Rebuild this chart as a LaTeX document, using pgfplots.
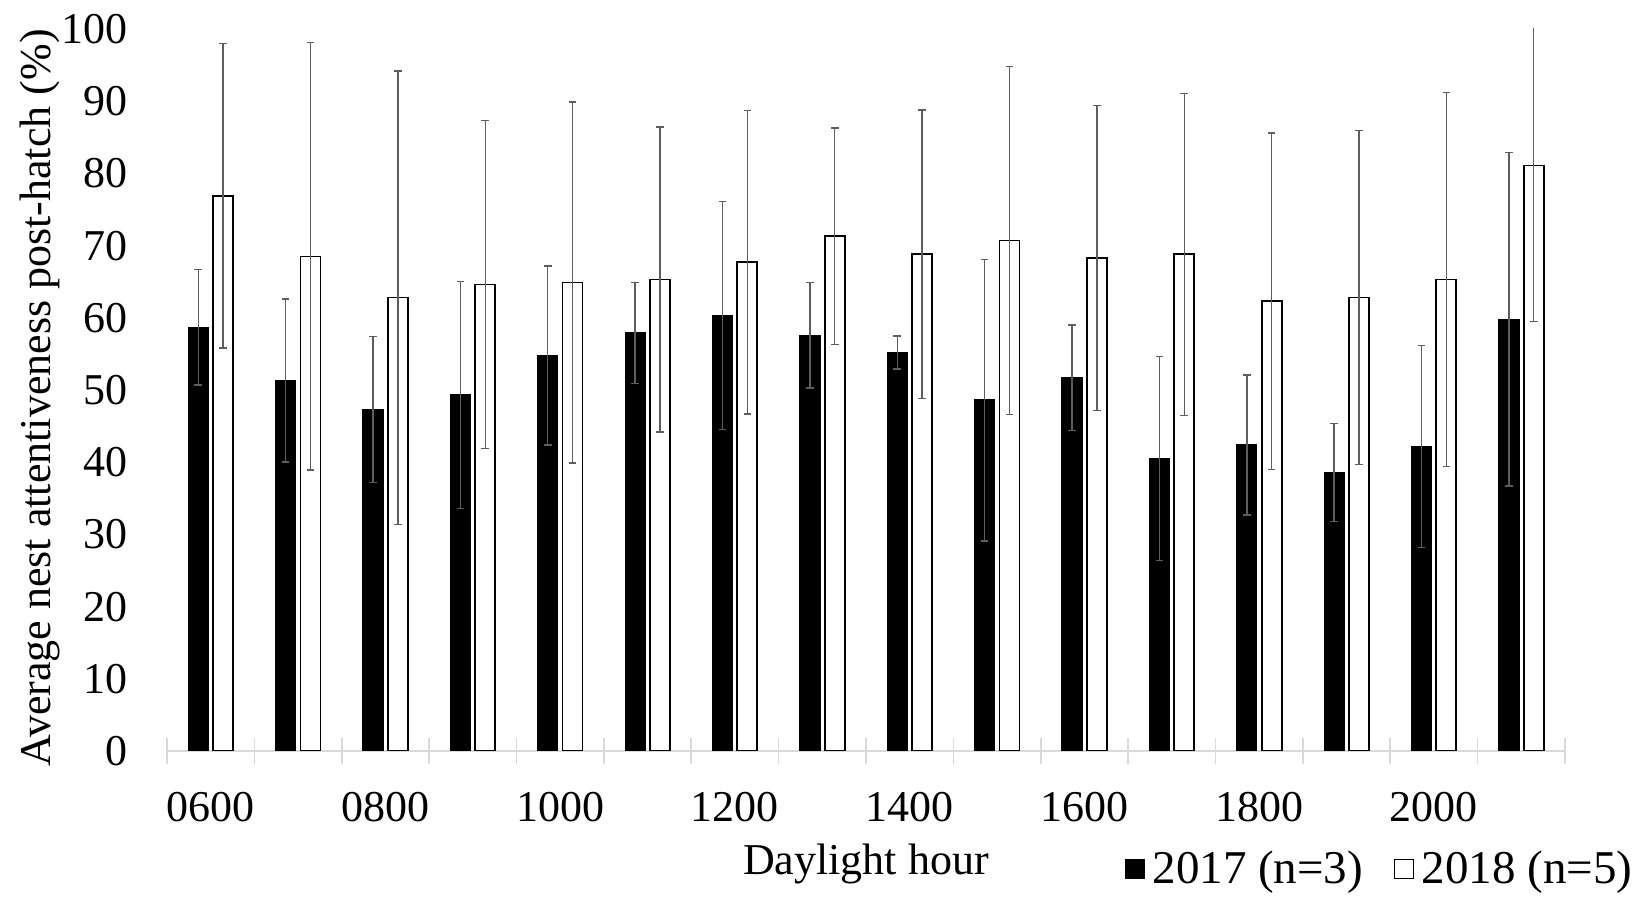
\documentclass[border=0pt]{standalone}
\usepackage{fontspec}
\setmainfont{Liberation Serif}
\usepackage{pgfplots}
\pgfplotsset{compat=1.18}
\usepackage{pgfplotstable}
\definecolor{axgray}{HTML}{D9D9D9}
\definecolor{errgray}{HTML}{5E5E5E}

\pgfplotstableread{
x y e
0 58.7 8.0
1 51.3 11.3
2 47.3 10.1
3 49.3 15.7
4 54.8 12.4
5 57.9 7.0
6 60.3 15.8
7 57.6 7.3
8 55.2 2.3
9 48.6 19.5
10 51.7 7.3
11 40.5 14.1
12 42.4 9.7
13 38.6 6.8
14 42.2 14.0
15 59.8 23.1
}\dataA

\pgfplotstableread{
x y e
0 76.9 21.1
1 68.5 29.6
2 62.8 31.4
3 64.6 22.7
4 64.9 25.0
5 65.3 21.1
6 67.7 21.0
7 71.3 15.0
8 68.8 20.0
9 70.7 24.1
10 68.3 21.1
11 68.8 22.3
12 62.3 23.3
13 62.8 23.1
14 65.3 25.9
15 81.1 21.6
}\dataB

\begin{document}
\begin{tikzpicture}
\useasboundingbox (-83.5pt,-73pt) rectangle (737.5pt,375.5pt);
\begin{axis}[
  at={(0pt,0pt)}, anchor=south west,
  scale only axis, width=699pt, height=361pt,
  ybar=2.4pt, bar width=10pt,
  xmin=-0.5, xmax=15.5, ymin=0, ymax=100,
  ytick={0,10,...,100},
  xtick={0,2,...,14},
  xticklabels={0600,0800,1000,1200,1400,1600,1800,2000},
  minor xtick={-0.5,0.5,...,15.5},
  major x tick style={draw=none},
  minor x tick style={color=axgray, line width=0.8pt},
  minor tick length=12.6pt,
  xtick align=center,
  axis x line*=bottom, axis y line*=left,
  x axis line style={-, color=axgray, line width=0.8pt},
  y axis line style={draw=none},
  ytick style={draw=none},
  /pgf/number format/assume math mode=true,
  tick label style={font=\fontsize{22}{26}\selectfont, inner sep=0pt},
  yticklabel style={anchor=east, xshift=-19.5pt},
  xticklabel style={anchor=base, yshift=-33pt},
  label style={font=\fontsize{22}{26}\selectfont},
  ylabel={Average nest attentiveness post-hatch (\%)},
  ylabel style={at={(axis description cs:-0.0908,0.489)}, anchor=center},
  xlabel={Daylight hour},
  xlabel style={at={(axis description cs:0.5,-0.1717)}, anchor=base},
  legend style={draw=none, fill=none, font=\fontsize{23.5}{27}\selectfont,
    at={(axis description cs:1.0505,-0.163)}, anchor=east, inner sep=0pt,
    legend columns=2,
    /tikz/every even column/.append style={column sep=14pt},
    nodes={inner sep=1.5pt}},
  legend cell align=left,
  clip=true,
]
\addplot[fill=black, draw=black, line width=0.6pt,
  legend image code/.code={\draw[fill=black, draw=black, line width=0.6pt] (0pt,-4.75pt) rectangle (9.5pt,4.75pt); \path[draw=none, fill=none] (0pt,0pt) -- (12pt,0pt);},
  error bars/.cd, y dir=both, y explicit,
  error bar style={line width=0.7pt, color=errgray},
  error mark options={rotate=90, mark size=1.9pt, line width=0.7pt, color=errgray}]
  table[x=x, y=y, y error=e] {\dataA};
\addlegendentry{2017 (n=3)}
\addplot[fill=white, draw=black, line width=0.9pt,
  legend image code/.code={\draw[fill=white, draw=black, line width=0.6pt] (0pt,-4.75pt) rectangle (9.5pt,4.75pt); \path[draw=none, fill=none] (0pt,0pt) -- (12pt,0pt);},
  error bars/.cd, y dir=both, y explicit,
  error bar style={line width=0.7pt, color=errgray},
  error mark options={rotate=90, mark size=1.9pt, line width=0.7pt, color=errgray}]
  table[x=x, y=y, y error=e] {\dataB};
\addlegendentry{2018 (n=5)}
\end{axis}
\end{tikzpicture}
\end{document}
